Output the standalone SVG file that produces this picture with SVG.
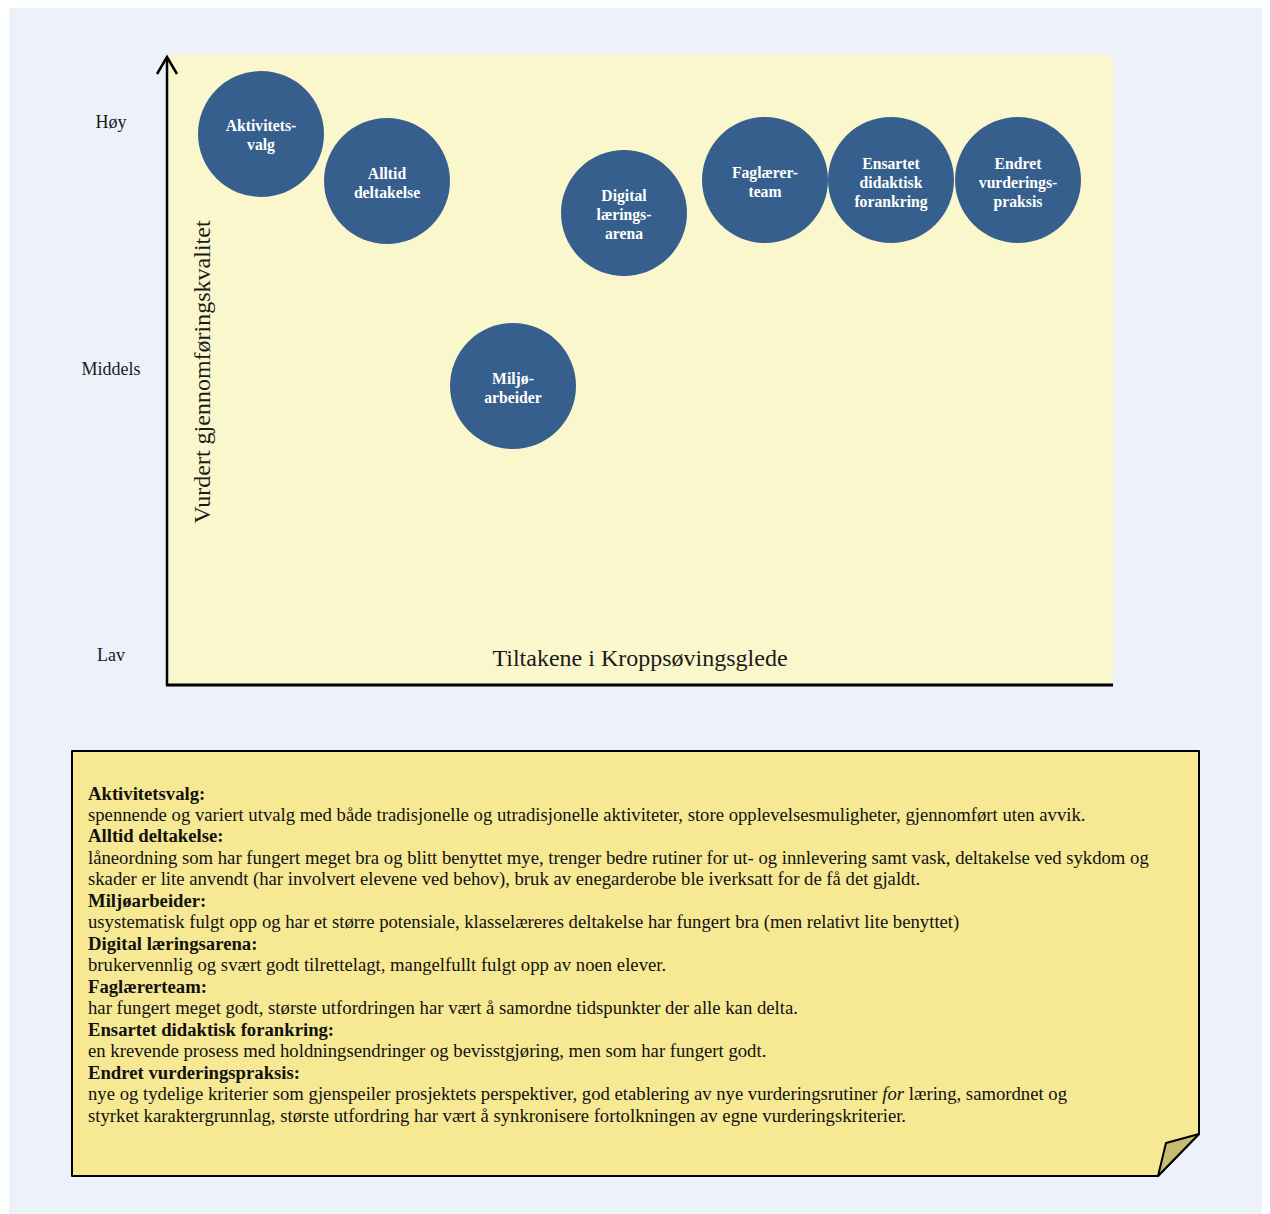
<svg xmlns="http://www.w3.org/2000/svg" width="1270" height="1214" viewBox="0 0 1270 1214">
  <style>
    .axis-lbl { font-family: "Liberation Serif", "Times New Roman", serif; font-size: 18px; fill: #1a1a1a; text-anchor: middle; }
    .axis-title { font-family: "Liberation Serif", "Times New Roman", serif; font-size: 24px; fill: #1a1a1a; text-anchor: middle; }
    .bubble circle { fill: #365f8e; }
    .bubble text { font-family: "Liberation Serif", "Times New Roman", serif; font-size: 15.7px; font-weight: bold; fill: #ffffff; text-anchor: middle; }
    .note text { font-family: "Liberation Serif", "Times New Roman", serif; font-size: 18.7px; fill: #111111; }
    .note .h { font-weight: bold; }
  </style>

  <!-- page background -->
  <rect x="0" y="0" width="1270" height="1214" fill="#ffffff"/>
  <rect x="9" y="8" width="1253" height="1206" fill="#edf1f9"/>

  <!-- plot area -->
  <rect x="167" y="55" width="946" height="630" fill="#faf7cd"/>

  <!-- axes -->
  <g id="axes" fill="none" stroke="#000000">
    <line x1="167" y1="57" x2="167" y2="686" stroke-width="2.5"/>
    <polyline points="157,74 167,57 177,74" stroke-width="2.5"/>
    <line x1="166" y1="685" x2="1113" y2="685" stroke-width="3"/>
  </g>

  <text class="axis-lbl" x="111" y="128">Høy</text>
  <text class="axis-lbl" x="111" y="375">Middels</text>
  <text class="axis-lbl" x="111" y="661">Lav</text>
  <text class="axis-title" x="640" y="666">Tiltakene i Kroppsøvingsglede</text>
  <text class="axis-title" transform="translate(210,372) rotate(-90)" x="0" y="0">Vurdert gjennomføringskvalitet</text>

  <!-- bubbles -->
  <g id="aktivitetsvalg" class="bubble">
    <circle cx="261" cy="134" r="63"/>
    <text x="261" y="131">Aktivitets-</text>
    <text x="261" y="150">valg</text>
  </g>
  <g id="alltid-deltakelse" class="bubble">
    <circle cx="387" cy="181" r="63"/>
    <text x="387" y="179">Alltid</text>
    <text x="387" y="198">deltakelse</text>
  </g>
  <g id="miljoarbeider" class="bubble">
    <circle cx="513" cy="386" r="63"/>
    <text x="513" y="384">Miljø-</text>
    <text x="513" y="403">arbeider</text>
  </g>
  <g id="digital-laeringsarena" class="bubble">
    <circle cx="624" cy="213" r="63"/>
    <text x="624" y="201">Digital</text>
    <text x="624" y="220">lærings-</text>
    <text x="624" y="239">arena</text>
  </g>
  <g id="faglaererteam" class="bubble">
    <circle cx="765" cy="180" r="63"/>
    <text x="765" y="178">Faglærer-</text>
    <text x="765" y="197">team</text>
  </g>
  <g id="ensartet-didaktisk-forankring" class="bubble">
    <circle cx="891" cy="180" r="63"/>
    <text x="891" y="169">Ensartet</text>
    <text x="891" y="188">didaktisk</text>
    <text x="891" y="207">forankring</text>
  </g>
  <g id="endret-vurderingspraksis" class="bubble">
    <circle cx="1018" cy="180" r="63"/>
    <text x="1018" y="169">Endret</text>
    <text x="1018" y="188">vurderings-</text>
    <text x="1018" y="207">praksis</text>
  </g>

  <!-- connectors: none in this chart -->
  <g id="connectors"/>

  <!-- explanation note with folded corner -->
  <g id="note" class="note">
    <polygon points="72,751 1199,751 1199,1134 1158,1176 72,1176" fill="#f7e993" stroke="#000000" stroke-width="2" stroke-linejoin="round"/>
    <polygon points="1199,1134 1166,1143 1158,1176" fill="#c9bb72" stroke="#000000" stroke-width="2" stroke-linejoin="round"/>
    <text class="h" x="88" y="800">Aktivitetsvalg:</text>
    <text x="88" y="821">spennende og variert utvalg med både tradisjonelle og utradisjonelle aktiviteter, store opplevelsesmuligheter, gjennomført uten avvik.</text>
    <text class="h" x="88" y="842">Alltid deltakelse:</text>
    <text x="88" y="864">låneordning som har fungert meget bra og blitt benyttet mye, trenger bedre rutiner for ut- og innlevering samt vask, deltakelse ved sykdom og</text>
    <text x="88" y="885">skader er lite anvendt (har involvert elevene ved behov), bruk av enegarderobe ble iverksatt for de få det gjaldt.</text>
    <text class="h" x="88" y="907">Miljøarbeider:</text>
    <text x="88" y="928">usystematisk fulgt opp og har et større potensiale, klasselæreres deltakelse har fungert bra (men relativt lite benyttet)</text>
    <text class="h" x="88" y="950">Digital læringsarena:</text>
    <text x="88" y="971">brukervennlig og svært godt tilrettelagt, mangelfullt fulgt opp av noen elever.</text>
    <text class="h" x="88" y="993">Faglærerteam:</text>
    <text x="88" y="1014">har fungert meget godt, største utfordringen har vært å samordne tidspunkter der alle kan delta.</text>
    <text class="h" x="88" y="1036">Ensartet didaktisk forankring:</text>
    <text x="88" y="1057">en krevende prosess med holdningsendringer og bevisstgjøring, men som har fungert godt.</text>
    <text class="h" x="88" y="1079">Endret vurderingspraksis:</text>
    <text x="88" y="1100">nye og tydelige kriterier som gjenspeiler prosjektets perspektiver, god etablering av nye vurderingsrutiner <tspan font-style="italic">for</tspan> læring, samordnet og</text>
    <text x="88" y="1122">styrket karaktergrunnlag, største utfordring har vært å synkronisere fortolkningen av egne vurderingskriterier.</text>
  </g>
</svg>
